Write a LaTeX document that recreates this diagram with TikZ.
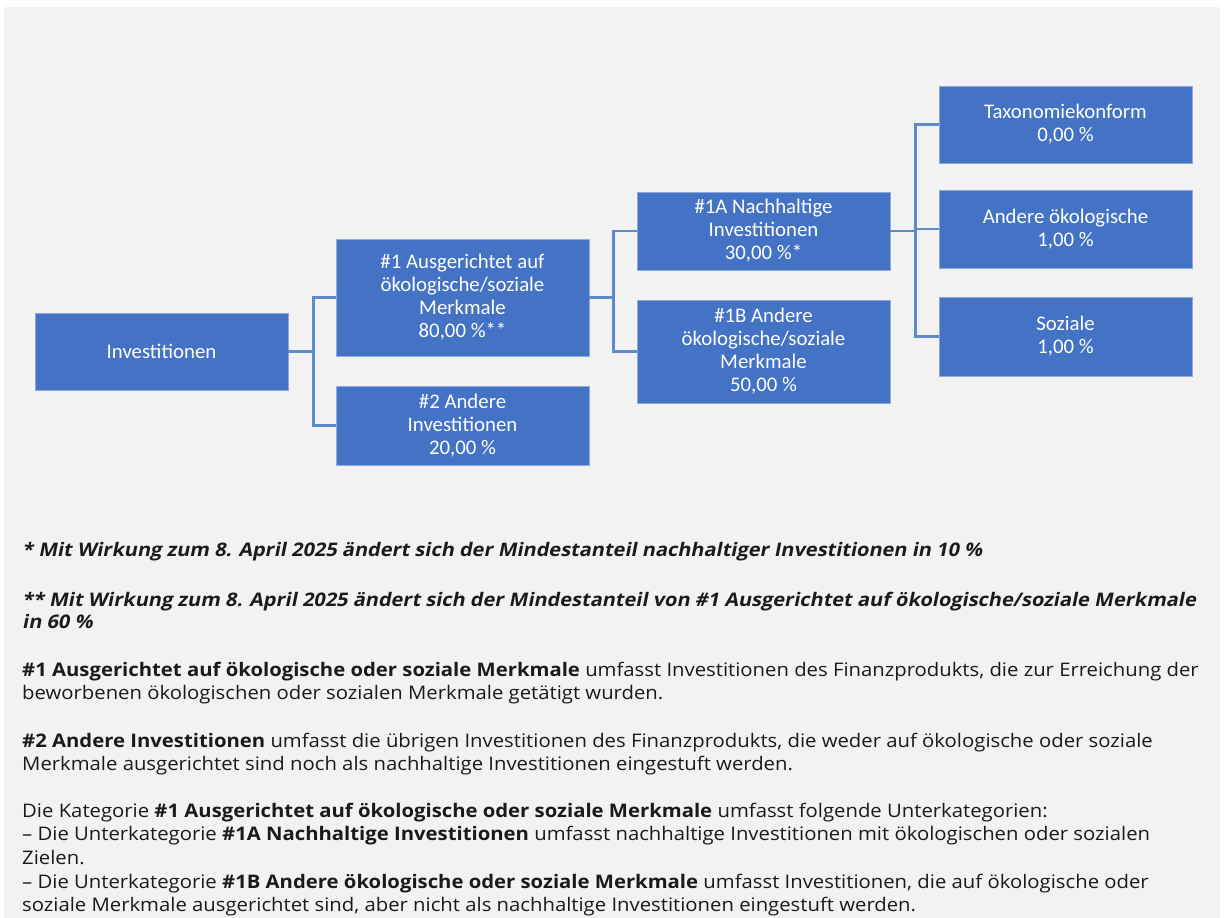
\documentclass[tikz,border=0pt]{standalone}
\usepackage{fontspec}
\newfontfamily\boxfont{Carlito}
\newfontfamily\notofont{Open Sans}[FakeStretch=1.085]
\newfontfamily\notoslant{Open Sans}[FakeStretch=1.068, FakeSlant=0.2]
\definecolor{bg}{HTML}{F2F2F2}
\definecolor{boxblue}{HTML}{4472C4}
\definecolor{boxedge}{HTML}{8EA9DB}
\definecolor{connblue}{HTML}{5B8CC8}
\definecolor{txt}{HTML}{1A1A1A}
\tikzset{
  catbox/.style={rectangle, fill=boxblue, draw=boxedge, line width=0.8pt,
    minimum width=253pt, inner sep=2pt, align=center, text=white,
    font=\boxfont\fontsize{20.8}{23}\selectfont},
  conn/.style={draw=connblue, line width=2.6pt},
  noteline/.style={anchor=base west, inner sep=0pt, text=txt,
    font=\notofont\fontsize{18.7}{23}\selectfont},
  footline/.style={noteline, font=\notoslant\bfseries\fontsize{18.7}{23}\selectfont},
}
\begin{document}
\begin{tikzpicture}[x=1pt, y=-1pt]
\useasboundingbox (0,0) rectangle (1224,918);
\fill[white] (0,0) rectangle (1224,918);
\fill[bg] (4,7) rectangle (1220,918);

\node[catbox, minimum height=77pt]  (inv)  at (161.5,351.5) {Investitionen};
\node[catbox, minimum height=117pt] (g1)   at (462.5,297.5) {\#1 Ausgerichtet auf\\ökologische/soziale\\Merkmale\\80,00 \%**};
\node[catbox, minimum height=79pt]  (g2)   at (462.5,425.5) {\#2 Andere\\Investitionen\\20,00 \%};
\node[catbox, minimum height=78pt]  (g1a)  at (763.5,231) {\#1A Nachhaltige\\Investitionen\\30,00 \%*};
\node[catbox, minimum height=103pt] (g1b)  at (763.5,351.5) {\#1B Andere\\ökologische/soziale\\Merkmale\\50,00 \%};
\node[catbox, minimum height=77pt]  (tax)  at (1065.5,124.5) {Taxonomiekonform\\0,00 \%};
\node[catbox, minimum height=78pt]  (oek)  at (1065.5,229) {Andere ökologische\\1,00 \%};
\node[catbox, minimum height=79pt]  (soz)  at (1065.5,336.5) {Soziale\\1,00 \%};

\draw[conn] (inv.east) -- ++(25,0) |- (g1.west);
\draw[conn] (inv.east) -- ++(25,0) |- (g2.west);
\draw[conn] (g1.east) -- ++(24,0) |- (g1a.west);
\draw[conn] (g1.east) -- ++(24,0) |- (g1b.west);
\draw[conn] (g1a.east) -- ++(25,0) |- (tax.west);
\draw[conn] (g1a.east) -- ++(25,0) |- (oek.west);
\draw[conn] (g1a.east) -- ++(25,0) |- (soz.west);

\node[footline] (n1) at (22,556) {* Mit Wirkung zum 8. April 2025 ändert sich der Mindestanteil nachhaltiger Investitionen in 10 \%};
\node[footline] (n2) at (22,606) {** Mit Wirkung zum 8. April 2025 ändert sich der Mindestanteil von \#1 Ausgerichtet auf ökologische/soziale Merkmale};
\node[footline] (n3) at (22,628) {in 60 \%};
\node[noteline] (p1) at (22,676) {\textbf{\#1 Ausgerichtet auf ökologische oder soziale Merkmale} umfasst Investitionen des Finanzprodukts, die zur Erreichung der};
\node[noteline] (p2) at (22,699.5) {beworbenen ökologischen oder sozialen Merkmale getätigt wurden.};
\node[noteline] (p3) at (22,747) {\textbf{\#2 Andere Investitionen} umfasst die übrigen Investitionen des Finanzprodukts, die weder auf ökologische oder soziale};
\node[noteline] (p4) at (22,770.5) {Merkmale ausgerichtet sind noch als nachhaltige Investitionen eingestuft werden.};
\node[noteline] (p5) at (22,817) {Die Kategorie \textbf{\#1 Ausgerichtet auf ökologische oder soziale Merkmale} umfasst folgende Unterkategorien:};
\node[noteline] (p6) at (22,840.5) {– Die Unterkategorie \textbf{\#1A Nachhaltige Investitionen} umfasst nachhaltige Investitionen mit ökologischen oder sozialen};
\node[noteline] (p7) at (22,864) {Zielen.};
\node[noteline] (p8) at (22,888) {– Die Unterkategorie \textbf{\#1B Andere ökologische oder soziale Merkmale} umfasst Investitionen, die auf ökologische oder};
\node[noteline] (p9) at (22,911.5) {soziale Merkmale ausgerichtet sind, aber nicht als nachhaltige Investitionen eingestuft werden.};
\end{tikzpicture}
\end{document}
